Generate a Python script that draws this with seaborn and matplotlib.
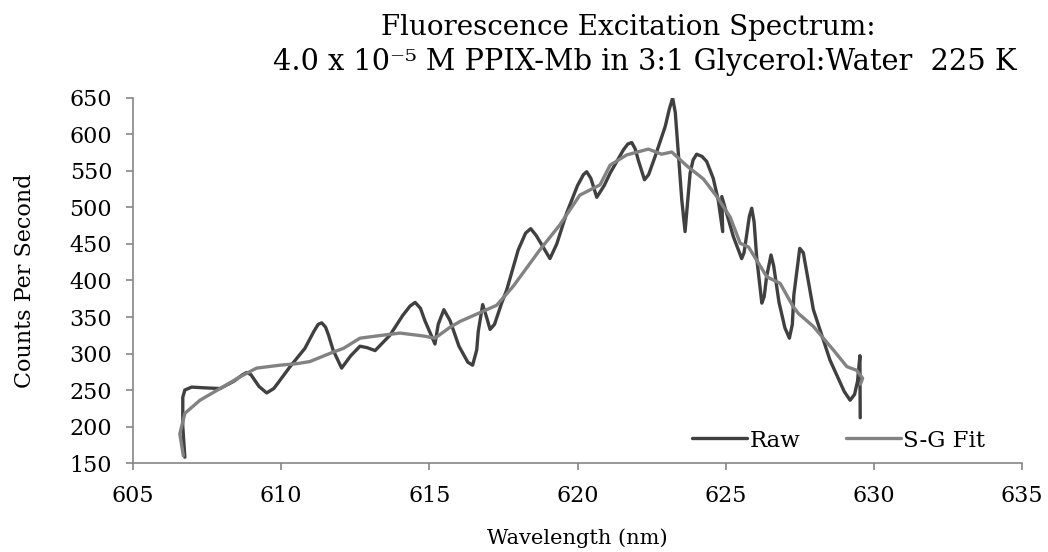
import matplotlib
matplotlib.use("Agg")
import matplotlib.pyplot as plt
import seaborn as sns
import pandas as pd

# Raw counts
raw_wavelength = [606.75, 606.68, 606.68, 606.75, 606.98, 607.4, 607.94, 608.4, 608.7, 608.84, 608.98,
                  609.25, 609.51, 609.75, 609.9, 610.3, 610.8, 611.1, 611.25, 611.37, 611.5, 611.6,
                  611.75, 612.04, 612.35, 612.66, 612.9, 613.17, 613.67, 614.1, 614.35, 614.52, 614.7,
                  614.85, 615.19, 615.3, 615.49, 615.7, 616.0, 616.3, 616.46, 616.6, 616.65, 616.8,
                  616.93, 617.05, 617.2, 617.44, 617.61, 618.0, 618.25, 618.42, 618.6, 618.75, 619.07,
                  619.3, 619.63, 620.0, 620.2, 620.31, 620.45, 620.65, 620.9, 621.1, 621.55, 621.7,
                  621.83, 621.95, 622.05, 622.26, 622.4, 622.62, 622.96, 623.1, 623.21, 623.3, 623.37,
                  623.52, 623.63, 623.7, 623.8, 623.9, 624.02, 624.2, 624.36, 624.58, 624.75, 624.9,
                  624.87, 625.26, 625.54, 625.62, 625.7, 625.8, 625.88, 625.96, 626.05, 626.22, 626.3,
                  626.38, 626.53, 626.62, 626.8, 627.0, 627.15, 627.25, 627.3, 627.5, 627.62, 627.96,
                  628.52, 629.0, 629.2, 629.35, 629.45, 629.53, 629.54]
raw_counts = [158, 200, 240, 250, 254, 253, 252, 262, 271, 274, 271,
              255, 246, 252, 260, 282, 307, 330, 340, 342, 336, 325,
              305, 280, 297, 310, 308, 304, 325, 352, 365, 370, 362,
              345, 313, 340, 360, 345, 310, 288, 284, 305, 330, 367,
              350, 333, 340, 369, 387, 442, 465, 471, 462, 452, 430,
              450, 492, 530, 545, 549, 540, 514, 530, 547, 579, 587,
              589, 580, 565, 538, 545, 570, 611, 635, 650, 630, 592,
              510, 467, 500, 547, 565, 573, 570, 563, 540, 510, 467,
              515, 460, 430, 438, 460, 488, 499, 480, 430, 369, 378,
              405, 435, 420, 370, 335, 321, 340, 380, 444, 438, 360,
              291, 248, 236, 244, 262, 297, 212]

# Savitzky-Golay fit
fit_wavelength = [606.7, 606.58, 606.75, 607.26, 607.94, 608.61, 609.17, 609.96, 610.52, 610.97,
                  611.76, 612.1, 612.66, 613.22, 614.01, 614.8, 615.19, 615.7, 616.04, 617.27,
                  617.83, 618.73, 619.4, 620.08, 620.42, 620.76, 621.1, 621.66, 622.39, 622.84,
                  623.18, 623.69, 624.25, 624.7, 625.15, 625.49, 625.77, 626.39, 626.84, 627.28,
                  627.45, 627.96, 628.63, 629.09, 629.42, 629.62, 629.55]
fit_counts = [160, 190, 218, 236, 252, 268, 280, 284, 286, 289,
              302, 307, 321, 324, 328, 324, 321, 336, 344, 366,
              392, 442, 476, 517, 524, 531, 558, 572, 580, 573,
              576, 557, 539, 515, 487, 451, 446, 405, 396, 364,
              355, 337, 305, 282, 277, 266, 258]

x_ticks = [605, 610, 615, 620, 625, 630, 635]
y_ticks = [150, 200, 250, 300, 350, 400, 450, 500, 550, 600, 650]

title_line1 = "Fluorescence Excitation Spectrum:"
title_line2 = "4.0 x 10\u207b\u2075 M PPIX-Mb in 3:1 Glycerol:Water  225 K"

sns.set_theme(style="white")
plt.rcParams['font.family'] = ['DejaVu Serif', 'DejaVu Sans']

raw_df = pd.DataFrame({"Wavelength": raw_wavelength, "Counts": raw_counts})
fit_df = pd.DataFrame({"Wavelength": fit_wavelength, "Counts": fit_counts})

fig = plt.figure(figsize=(10.48, 5.52), dpi=100)
ax = fig.add_axes([0.1269, 0.1612, 0.8483, 0.6613])

sns.lineplot(data=raw_df, x="Wavelength", y="Counts", sort=False, estimator=None,
             color="#404040", linewidth=2.4, label="Raw", ax=ax)
sns.lineplot(data=fit_df, x="Wavelength", y="Counts", sort=False, estimator=None,
             color="#828282", linewidth=2.4, label="S-G Fit", ax=ax)
for ln in ax.get_lines():
    ln.set_solid_joinstyle("round")
    ln.set_solid_capstyle("round")

ax.set_xlim(605, 635)
ax.set_ylim(150, 650)
ax.set_xticks(x_ticks)
ax.set_yticks(y_ticks)
ax.tick_params(axis="both", labelsize=16, length=5, width=1.2, color="#868686",
               labelcolor="black", direction="out", bottom=True, left=True)
ax.tick_params(axis="y", pad=10)
ax.tick_params(axis="x", pad=11)
ax.set_xlabel("Wavelength (nm)", fontsize=15, color="black", labelpad=15)
ax.set_ylabel("Counts Per Second", fontsize=16, color="black", labelpad=24)
for s in ["top", "right"]:
    ax.spines[s].set_visible(False)
for s in ["left", "bottom"]:
    ax.spines[s].set_color("#868686")
    ax.spines[s].set_linewidth(1.2)
ax.grid(False)

leg = ax.legend(loc="lower right", ncol=2, frameon=False, fontsize=16.5,
                handlelength=2.4, handletextpad=0.1, columnspacing=2.0,
                bbox_to_anchor=(0.982, -0.025))
for t in leg.get_texts():
    t.set_color("black")

fig.text(0.5997, 0.937, title_line1, ha="center", va="baseline", fontsize=20, color="black")
fig.text(0.6155, 0.873, title_line2, ha="center", va="baseline", fontsize=20.8, color="black")

fig.savefig("out.png", dpi=100, facecolor="white")
